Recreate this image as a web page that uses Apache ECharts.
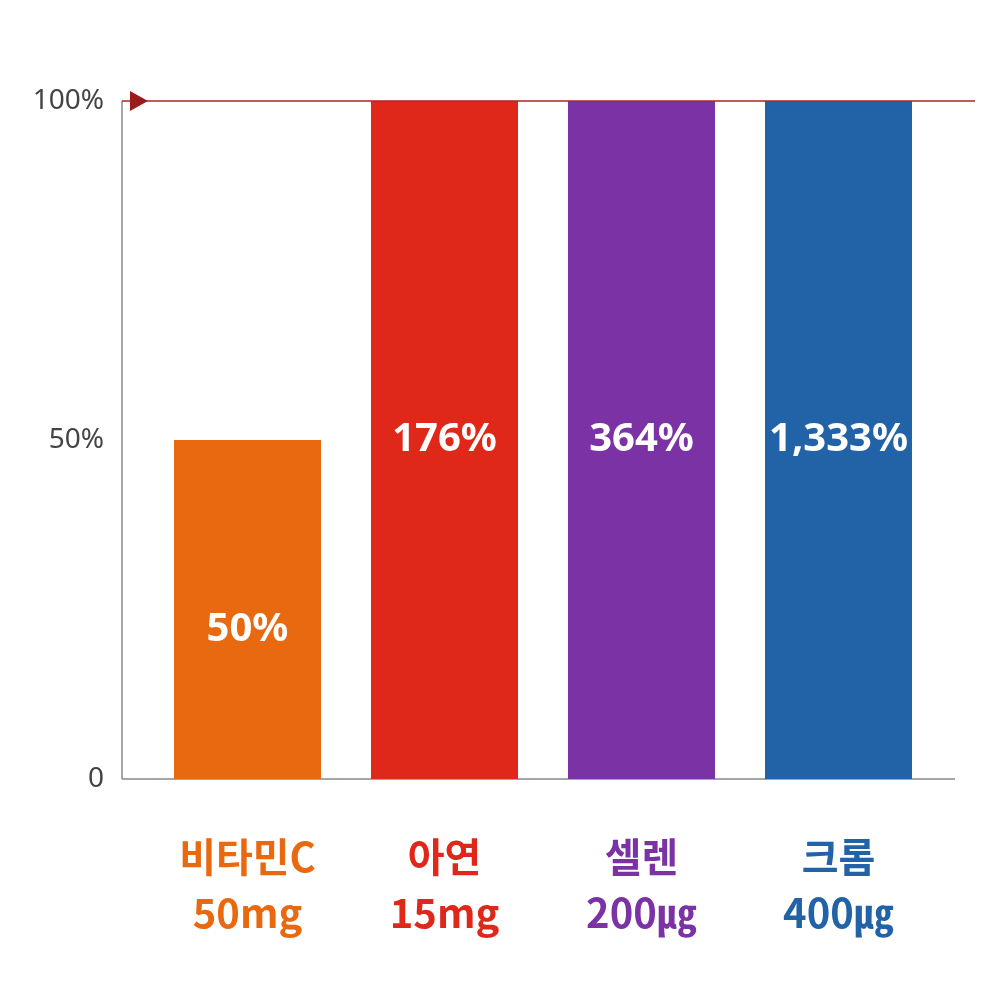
<!DOCTYPE html><html><head><meta charset="utf-8"><script src="https://cdn.jsdelivr.net/npm/echarts@6/dist/echarts.min.js"></script></head><body style="margin:0"><div id="c" style="width:1000px;height:1000px"></div><script>
const categories=['비타민C\n50mg','아연\n15mg','셀렌\n200㎍','크롬\n400㎍'];
const displayValues=[50,100,100,100];
const labelTexts=['50%','176%','364%','1,333%'];
const colors=['#E8690F','#E0281A','#7B32A5','#2262A6'];
const yTicks={0:'0',50:'50%',100:'100%'};
const ch=echarts.init(document.getElementById('c'));
ch.setOption({
 grid:{left:149,right:63,top:101,bottom:221},
 xAxis:{type:'category',data:categories,axisLine:{show:false},axisTick:{show:false},
  axisLabel:{margin:50,lineHeight:56,fontSize:40,fontWeight:'bold',fontFamily:'Noto Sans CJK KR',
   color:(v,i)=>colors[i]}},
 yAxis:{type:'value',min:0,max:100,interval:50,splitLine:{show:false},axisLine:{show:false},axisTick:{show:false},
  axisLabel:{margin:45,fontSize:28,fontFamily:'Noto Sans',color:v=>v===100?'#9B1B1B':'#444',formatter:v=>yTicks[v]}},
 series:[{type:'bar',barWidth:147,data:displayValues.map((v,i)=>({value:v,itemStyle:{color:colors[i]},
   label:{offset:[0,i===0?20:0]}})),
  label:{show:true,position:'inside',color:'#fff',fontSize:40,fontWeight:'bold',fontFamily:'Noto Sans',
   formatter:p=>labelTexts[p.dataIndex]}}],
 graphic:[
  {type:'line',shape:{x1:122,y1:101,x2:122,y2:779},style:{stroke:'#888',lineWidth:1.5}},
  {type:'line',shape:{x1:122,y1:779,x2:955,y2:779},style:{stroke:'#888',lineWidth:1.5}},
  {type:'line',shape:{x1:122,y1:101,x2:975,y2:101},style:{stroke:'#B22222',lineWidth:1.5},z:10},
  {type:'polygon',shape:{points:[[130,91],[148,101],[130,111]]},style:{fill:'#9B1B1B'},z:11}
 ]
});
</script></body></html>
